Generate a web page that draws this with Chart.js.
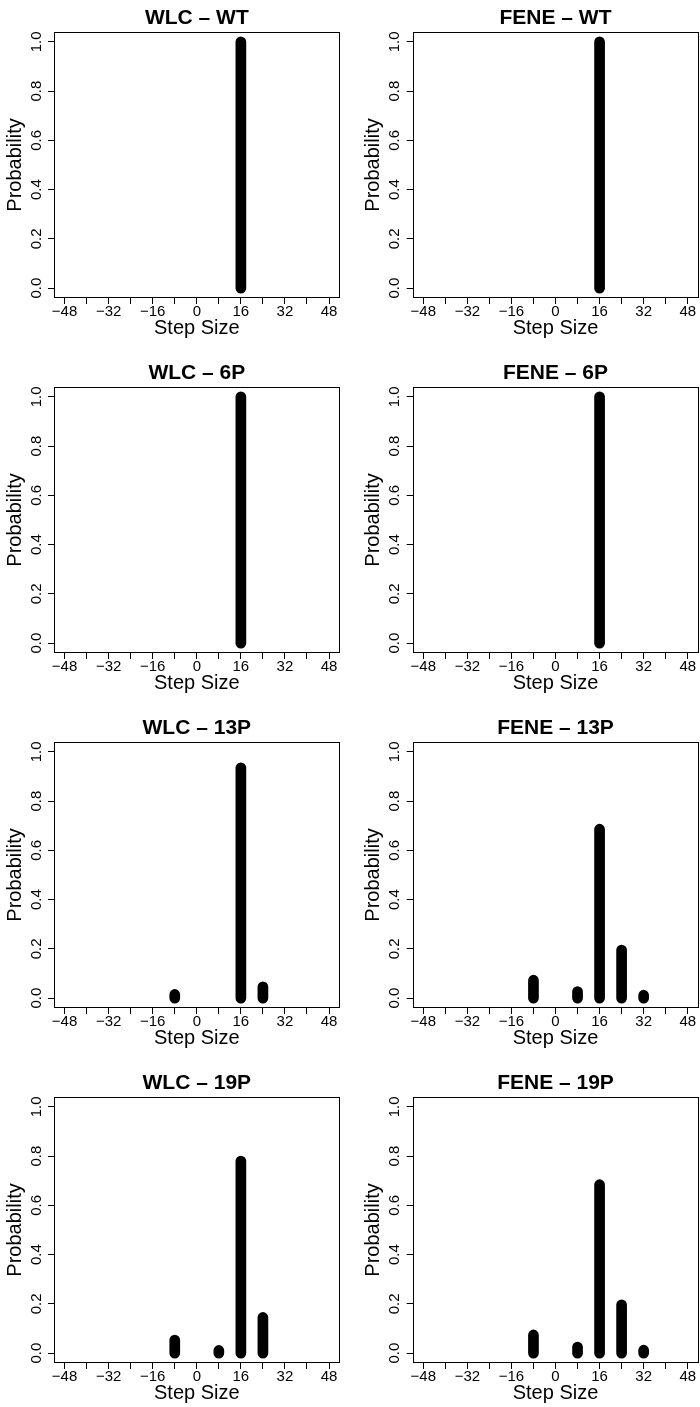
<!DOCTYPE html>
<html>
<head>
<meta charset="utf-8">
<script src="https://cdn.jsdelivr.net/npm/chart.js@4.4.0/dist/chart.umd.min.js"></script>
<style>
  body { margin: 0; background: #fff; }
  #grid { position: relative; width: 700px; height: 1407px; }
  #grid canvas { position: absolute; }
</style>
</head>
<body>
<div id="grid"></div>
<script>
// step sizes (nm) that show up in any panel
var steps = [-8, 8, 16, 24, 32];

// probability of each step, one list per model / construct
var wlcWT   = [0, 0, 1.0, 0, 0];
var feneWT  = [0, 0, 1.0, 0, 0];
var wlc6P   = [0, 0, 1.0, 0, 0];
var fene6P  = [0, 0, 1.0, 0, 0];
var wlc13P  = [0.015, 0, 0.935, 0.046, 0];
var fene13P = [0.073, 0.027, 0.686, 0.195, 0.012];
var wlc19P  = [0.053, 0.011, 0.78, 0.145, 0];
var fene19P = [0.074, 0.025, 0.684, 0.196, 0.012];

var titles = ['WLC \u2013 WT', 'FENE \u2013 WT', 'WLC \u2013 6P', 'FENE \u2013 6P',
              'WLC \u2013 13P', 'FENE \u2013 13P', 'WLC \u2013 19P', 'FENE \u2013 19P'];
var panels = [wlcWT, feneWT, wlc6P, fene6P, wlc13P, fene13P, wlc19P, fene19P];

// axis ticks: marks every 8, numbers only every 16
var xTicks = [-48, -40, -32, -24, -16, -8, 0, 8, 16, 24, 32, 40, 48];
var xLabelEvery = 16;
var yTicks = [0, 0.2, 0.4, 0.6, 0.8, 1.0];

var FONT = '"Liberation Sans", Arial, Helvetica, sans-serif';
Chart.defaults.font.family = FONT;
Chart.defaults.color = '#000';

// R-ish box round the plot region
var boxPlugin = {
  id: 'box',
  afterDraw: function (chart) {
    var a = chart.chartArea, ctx = chart.ctx;
    ctx.save();
    ctx.strokeStyle = '#000';
    ctx.lineWidth = 1;
    ctx.strokeRect(Math.round(a.left) + 0.5, Math.round(a.top) + 0.5,
                   Math.round(a.right - a.left) - 1, Math.round(a.bottom - a.top) - 1);
    ctx.restore();
  }
};

// type="h" style stems: a line from 0 up to the value, broken between steps
function stems(probs) {
  var pts = [];
  for (var i = 0; i < steps.length; i++) {
    if (!probs[i]) continue;
    pts.push({x: steps[i], y: 0}, {x: steps[i], y: probs[i]}, {x: steps[i], y: null});
  }
  return pts;
}

function minus(v) {
  return v < 0 ? '\u2212' + Math.abs(v) : String(v);
}

var CW = 350, CH = 342, ROW = 355;
var grid = document.getElementById('grid');

panels.forEach(function (probs, i) {
  var col = i % 2, row = Math.floor(i / 2);
  var left = col ? 62.7 : 54;       // plot region left inside the canvas
  var right = col ? 348.3 : 339.6;  // plot region right
  var canvas = document.createElement('canvas');
  canvas.width = CW; canvas.height = CH;
  canvas.style.width = CW + 'px'; canvas.style.height = CH + 'px';
  canvas.style.left = (col * CW) + 'px';
  canvas.style.top = (row * ROW) + 'px';
  grid.appendChild(canvas);

  new Chart(canvas, {
    type: 'line',
    data: {
      datasets: [{
        data: stems(probs),
        borderColor: '#000',
        borderWidth: 10.7,
        borderCapStyle: 'round',
        pointRadius: 0,
        spanGaps: false,
        tension: 0,
        clip: false
      }]
    },
    options: {
      responsive: false,
      animation: false,
      events: [],
      layout: { padding: { left: 0, right: CW - right, top: 0, bottom: 0 } },
      plugins: {
        legend: { display: false },
        tooltip: { enabled: false },
        title: {
          display: true,
          text: titles[i],
          fullSize: false,
          color: '#000',
          font: { size: 21, weight: 'bold', lineHeight: 1.2 },
          padding: { top: 5.9, bottom: 0.9 }
        }
      },
      scales: {
        x: {
          type: 'linear',
          min: -51.84,
          max: 51.84,
          afterBuildTicks: function (s) {
            s.ticks = xTicks.map(function (v) { return {value: v}; });
          },
          afterFit: function (s) { s.height = CH - 298; },
          border: { display: false },
          grid: { drawOnChartArea: false, drawTicks: true, tickLength: 6, tickColor: '#000', lineWidth: 1 },
          ticks: {
            autoSkip: false, maxRotation: 0, minRotation: 0, padding: 0.5,
            font: { size: 15, lineHeight: 1 },
            callback: function (v) { return v % xLabelEvery === 0 ? minus(v) : ''; }
          },
          title: {
            display: true, text: 'Step Size',
            font: { size: 20, lineHeight: 1.2 },
            padding: { top: 0, bottom: 1.2 }
          }
        },
        y: {
          type: 'linear',
          min: -0.04,
          max: 1.04,
          afterBuildTicks: function (s) {
            s.ticks = yTicks.map(function (v) { return {value: v}; });
          },
          afterFit: function (s) { s.width = left; },
          border: { display: false },
          grid: { drawOnChartArea: false, drawTicks: true, tickLength: 6, tickColor: '#000', lineWidth: 1 },
          ticks: {
            minRotation: 90, maxRotation: 90, crossAlign: 'center', padding: 1.1,
            font: { size: 15 },
            callback: function (v) { return v.toFixed(1); }
          },
          title: {
            display: true, text: 'Probability',
            font: { size: 20, lineHeight: 1.2 },
            padding: { top: col ? 11.9 : 3.6, bottom: 0 }
          }
        }
      }
    },
    plugins: [boxPlugin]
  });
});
</script>
</body>
</html>
